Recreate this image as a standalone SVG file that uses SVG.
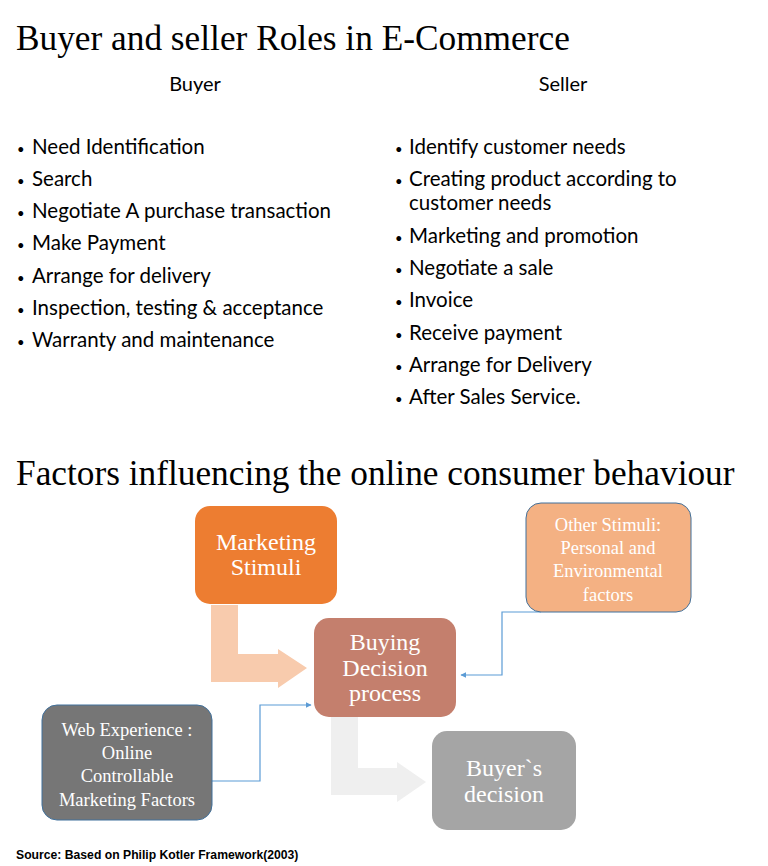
<svg xmlns="http://www.w3.org/2000/svg" width="768" height="866" viewBox="0 0 768 866">
<style>
.title{font-family:"Liberation Serif",serif;font-size:35.3px;fill:#000}
.head{font-family:Lato,"Liberation Sans",sans-serif;font-size:20px;fill:#000;text-anchor:middle}
.li{font-family:Lato,"Liberation Sans",sans-serif;font-size:20.5px;fill:#000}
.bul{font-family:Lato,"Liberation Sans",sans-serif;font-size:13px;fill:#000}
.nt{font-family:"Liberation Serif",serif;font-size:24px;fill:#fff;text-anchor:middle}
.ns{font-family:"Liberation Serif",serif;font-size:18.5px;fill:#fff;text-anchor:middle}
.conn{fill:none;stroke:#5B9BD5;stroke-width:1.2}
.src{font-family:"Liberation Sans",sans-serif;font-size:12.2px;font-weight:bold;fill:#000}
</style>
<defs>
<marker id="ah" viewBox="0 0 10 10" refX="9" refY="5" markerWidth="5" markerHeight="5" orient="auto">
<path d="M0,0 L10,5 L0,10 z" fill="#5B9BD5"/>
</marker>
</defs>
<rect width="768" height="866" fill="#fff"/>
<text class="title" x="16" y="50">Buyer and seller Roles in E-Commerce</text>
<text class="head" x="195" y="91">Buyer</text>
<text class="head" x="563" y="91">Seller</text>
<g id="buyer-list">
<text class="bul" x="17" y="154">•</text><text class="li" x="32" y="154">Need Identification</text>
<text class="bul" x="17" y="186">•</text><text class="li" x="32" y="186">Search</text>
<text class="bul" x="17" y="218">•</text><text class="li" x="32" y="218">Negotiate A purchase transaction</text>
<text class="bul" x="17" y="250">•</text><text class="li" x="32" y="250">Make Payment</text>
<text class="bul" x="17" y="283">•</text><text class="li" x="32" y="283">Arrange for delivery</text>
<text class="bul" x="17" y="315">•</text><text class="li" x="32" y="315">Inspection, testing &amp; acceptance</text>
<text class="bul" x="17" y="347">•</text><text class="li" x="32" y="347">Warranty and maintenance</text>
</g>
<g id="seller-list">
<text class="bul" x="395" y="154">•</text><text class="li" x="409" y="154">Identify customer needs</text>
<text class="bul" x="395" y="186">•</text><text class="li" x="409" y="186">Creating product according to</text>
<text class="li" x="409" y="210">customer needs</text>
<text class="bul" x="395" y="243">•</text><text class="li" x="409" y="243">Marketing and promotion</text>
<text class="bul" x="395" y="275">•</text><text class="li" x="409" y="275">Negotiate a sale</text>
<text class="bul" x="395" y="307">•</text><text class="li" x="409" y="307">Invoice</text>
<text class="bul" x="395" y="340">•</text><text class="li" x="409" y="340">Receive payment</text>
<text class="bul" x="395" y="372">•</text><text class="li" x="409" y="372">Arrange for Delivery</text>
<text class="bul" x="395" y="404">•</text><text class="li" x="409" y="404">After Sales Service.</text>
</g>
<text class="title" x="16" y="485">Factors influencing the online consumer behaviour</text>
<g id="connectors">
<path d="M211,605 L238,605 L238,654 L278,654 L278,649 L307,668 L278,688 L278,682 L211,682 Z" fill="#F8CBAD"/>
<path d="M331,717 L358,717 L358,768 L397,768 L397,762 L426,782 L397,802 L397,795 L331,795 Z" fill="#EFEFEF"/>
<path class="conn" d="M541,612 L502,612 L502,675 L461,675" marker-end="url(#ah)"/>
<path class="conn" d="M212,781 L260,781 L260,705 L311,705" marker-end="url(#ah)"/>
</g>
<g id="marketing-stimuli">
<rect x="195" y="506" width="142" height="98" rx="15" fill="#ED7D31"/>
<text class="nt" x="266" y="550">Marketing</text>
<text class="nt" x="266" y="575">Stimuli</text>
</g>
<g id="buying-decision">
<rect x="314" y="618" width="142" height="99" rx="15" fill="#C47F6D"/>
<text class="nt" x="385" y="650">Buying</text>
<text class="nt" x="385" y="676">Decision</text>
<text class="nt" x="385" y="701">process</text>
</g>
<g id="other-stimuli">
<rect x="526" y="503" width="165" height="109" rx="15" fill="#F4B183" stroke="#41719C" stroke-width="1"/>
<text class="ns" x="608" y="531">Other Stimuli:</text>
<text class="ns" x="608" y="554">Personal and</text>
<text class="ns" x="608" y="577">Environmental</text>
<text class="ns" x="608" y="601">factors</text>
</g>
<g id="web-experience">
<rect x="42" y="705" width="170" height="115" rx="15" fill="#767676" stroke="#41719C" stroke-width="1"/>
<text class="ns" x="127" y="736">Web Experience :</text>
<text class="ns" x="127" y="759">Online</text>
<text class="ns" x="127" y="782">Controllable</text>
<text class="ns" x="127" y="806">Marketing Factors</text>
</g>
<g id="buyers-decision">
<rect x="432" y="731" width="144" height="99" rx="15" fill="#A5A5A5"/>
<text class="nt" x="504" y="776">Buyer`s</text>
<text class="nt" x="504" y="802">decision</text>
</g>
<text class="src" x="16" y="859">Source: Based on Philip Kotler Framework(2003)</text>
</svg>
